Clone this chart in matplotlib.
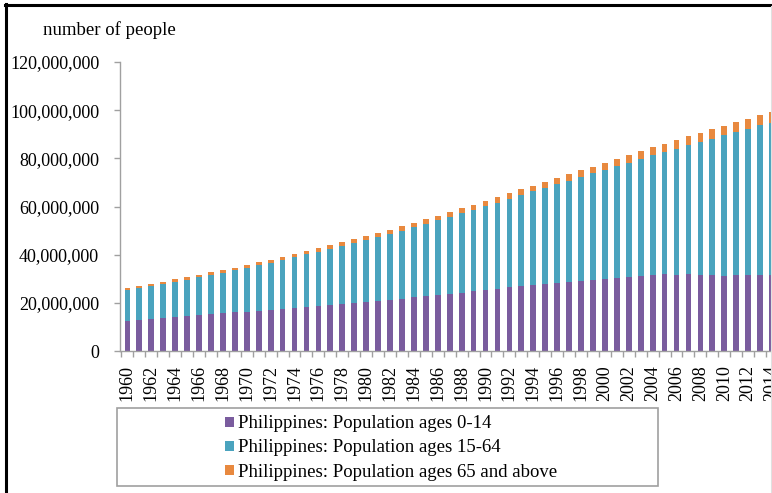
import numpy as np
import matplotlib
matplotlib.use("Agg")
import matplotlib.pyplot as plt
from matplotlib.patches import Patch, Rectangle
from matplotlib.lines import Line2D
from matplotlib.ticker import FuncFormatter

plt.rcParams['font.family'] = ['Liberation Serif', 'DejaVu Serif']

years = list(range(1960, 2015))
# values in millions of people
ages_0_14 = [12.5, 12.8, 13.2, 13.6, 14.1, 14.6, 15.0, 15.4, 15.8, 16.2,
             16.4, 16.7, 17.0, 17.4, 17.9, 18.3, 18.8, 19.2, 19.5, 19.9,
             20.5, 20.8, 21.2, 21.7, 22.3, 22.8, 23.4, 23.8, 24.2, 24.8,
             25.2, 25.7, 26.4, 26.9, 27.4, 27.8, 28.2, 28.7, 29.2, 29.6,
             29.9, 30.4, 30.9, 31.3, 31.6, 31.8, 31.7, 31.8, 31.6, 31.4,
             31.3, 31.4, 31.6, 31.6, 31.7]
ages_15_64 = [12.92, 13.40, 13.77, 14.25, 14.62, 14.99, 15.56, 16.13, 16.70, 17.27,
              18.13, 18.89, 19.65, 20.41, 21.07, 21.83, 22.48, 23.24, 24.09, 24.94,
              25.59, 26.54, 27.48, 28.33, 29.17, 30.01, 30.85, 31.89, 33.03, 33.87,
              35.00, 35.94, 36.77, 37.80, 38.83, 39.95, 40.97, 41.99, 43.00, 44.11,
              45.32, 46.33, 47.34, 48.45, 49.66, 50.87, 52.38, 53.69, 55.30, 56.81,
              58.22, 59.52, 60.71, 62.09, 63.06]
ages_65_up = [0.88, 0.90, 0.93, 0.95, 0.98, 1.01, 1.04, 1.07, 1.10, 1.13,
              1.17, 1.21, 1.25, 1.29, 1.33, 1.37, 1.42, 1.46, 1.51, 1.56,
              1.61, 1.66, 1.72, 1.77, 1.83, 1.89, 1.95, 2.01, 2.07, 2.13,
              2.20, 2.26, 2.33, 2.40, 2.47, 2.55, 2.63, 2.71, 2.80, 2.89,
              2.98, 3.07, 3.16, 3.25, 3.34, 3.43, 3.52, 3.61, 3.70, 3.79,
              3.88, 3.98, 4.09, 4.21, 4.34]
series_labels = ["Philippines: Population ages 0-14",
                 "Philippines: Population ages 15-64",
                 "Philippines: Population ages 65 and above"]
colors = ["#7A5C9E", "#4AA3BE", "#E8893F"]

W, H = 772, 493
fig = plt.figure(figsize=(W / 100, H / 100), dpi=100)

ax = fig.add_axes([120 / W, (H - 351) / H, 658 / W, 289 / H])
x = np.arange(len(years))
a = np.array(ages_0_14) * 1e6
b = np.array(ages_15_64) * 1e6
c = np.array(ages_65_up) * 1e6
ax.bar(x, a, width=0.48, color=colors[0], zorder=2)
ax.bar(x, b, width=0.48, bottom=a, color=colors[1], zorder=2)
ax.bar(x, c, width=0.48, bottom=a + b, color=colors[2], zorder=2)

ax.set_xlim(-0.62, len(years) - 0.62)
ax.set_ylim(0, 120e6)
ax.set_yticks(np.arange(0, 120e6 + 1, 20e6))
ax.yaxis.set_major_formatter(FuncFormatter(lambda v, p: f"{int(v):,}"))

ax.set_xticks(x[::2])
ax.set_xticklabels([str(y) for y in years[::2]], rotation=90)
ax.set_xticks(np.arange(-0.5, len(years), 1.0), minor=True)
ax.tick_params(axis='x', which='major', length=0, pad=10, labelsize=13)
ax.tick_params(axis='x', which='minor', length=4, color='#A0A0A0', width=1)
ax.tick_params(axis='y', length=4, color='#A0A0A0', width=1, pad=11, labelsize=13)

for s in ['top', 'right']:
    ax.spines[s].set_visible(False)
for s in ['left', 'bottom']:
    ax.spines[s].set_color('#A0A0A0')
    ax.spines[s].set_linewidth(1)

fig.text(43 / W, 1 - 30 / H, "number of people", fontsize=13.5, va='center', ha='left')

# legend box
fig.add_artist(Rectangle((117 / W, (H - 486) / H), (658 - 117) / W, (486 - 408) / H,
                         transform=fig.transFigure, fill=False, edgecolor='#A0A0A0', linewidth=1.2))
handles = [Patch(facecolor=col, edgecolor='none') for col in colors]
fig.legend(handles, series_labels, loc='center', bbox_to_anchor=(391 / W, 1 - 448 / H),
           frameon=False, fontsize=13.5, handlelength=0.45, handleheight=0.45,
           handletextpad=0.2, labelspacing=0.38, borderpad=0)

# outer frame (left and top), faint right edge
fig.add_artist(Line2D([6 / W, 6 / W], [0, 1 - 4 / H], transform=fig.transFigure, color='black', linewidth=2.2))
fig.add_artist(Line2D([5 / W, 1], [1 - 5 / H, 1 - 5 / H], transform=fig.transFigure, color='black', linewidth=2.2))
fig.add_artist(Line2D([770.5 / W, 770.5 / W], [0, 1 - 6 / H], transform=fig.transFigure, color='#E0E0E0', linewidth=0.8))

fig.savefig("out.png", dpi=100)
